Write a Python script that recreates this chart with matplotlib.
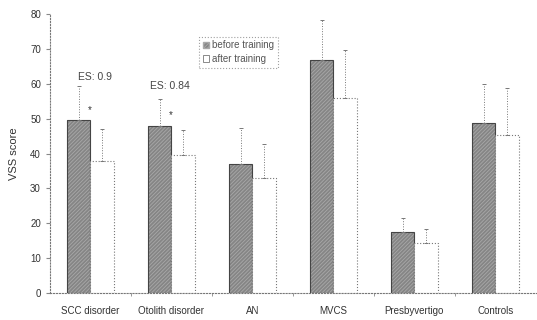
import numpy as np
import matplotlib.pyplot as plt

plt.rcParams['font.family'] = ['Liberation Sans', 'DejaVu Sans']
plt.rcParams['hatch.linewidth'] = 0.6

groups = ['SCC disorder', 'Otolith disorder', 'AN', 'MVCS', 'Presbyvertigo', 'Controls']
before = [49.6, 48.0, 36.9, 66.8, 17.4, 48.7]
before_sd = [9.7, 7.6, 10.4, 11.4, 4.1, 11.2]
after = [37.8, 39.5, 33.0, 56.0, 14.3, 45.3]
after_sd = [9.2, 7.2, 9.7, 13.6, 4.0, 13.4]

x = np.arange(len(groups)) + 0.5
w = 0.285

fig = plt.figure(figsize=(5.37, 3.2), dpi=100)
ax = fig.add_axes([0.093, 0.084, 0.905, 0.872])

# before: dark hatched, after: white dotted outline
ax.bar(x - w/2, before, w, color='#858585', edgecolor='#a9a9a9', hatch='/////////', lw=0)
ax.bar(x - w/2, before, w, fill=False, edgecolor='#444444', lw=0.8)
ax.bar(x + w/2, after, w, color='white', edgecolor='#777777', lw=0.8, ls=':')

for xs, ys, es in ((x - w/2, before, before_sd), (x + w/2, after, after_sd)):
    eb = ax.errorbar(xs, ys, yerr=[np.zeros(len(es)), es], fmt='none',
                     ecolor='#777777', elinewidth=0.7, capsize=1.5, capthick=0.7)
    for lc in eb[2]:
        lc.set_linestyle(':')

# legend-like box
h1 = plt.Rectangle((0, 0), 1, 1, facecolor='#858585', edgecolor='#a9a9a9', hatch='/////////')
h2 = plt.Rectangle((0, 0), 1, 1, facecolor='white', edgecolor='#777777', lw=0.6)
leg = ax.legend([h1, h2], ['before training', 'after training'],
                loc='upper left', bbox_to_anchor=(0.296, 0.937), fontsize=7,
                frameon=True, fancybox=False, handlelength=0.7, handleheight=0.7,
                handletextpad=0.3, borderpad=0.4, labelspacing=0.4,
                labelcolor='#555555')
leg.get_frame().set_edgecolor('#888888')
leg.get_frame().set_linestyle(':')
leg.get_frame().set_linewidth(0.8)

ax.text(x[0] - 0.15, 62, 'ES: 0.9', fontsize=7.5, color='#444444', ha='left', va='center')
ax.text(x[1] - 0.27, 59.5, 'ES: 0.84', fontsize=7.5, color='#444444', ha='left', va='center')
ax.text(x[0] - 0.01, 52.5, '*', fontsize=7, color='#333333', ha='center', va='center')
ax.text(x[1] - 0.01, 51, '*', fontsize=7, color='#333333', ha='center', va='center')

ax.set_xlim(0, len(groups))
ax.set_ylim(0, 80)
ax.set_yticks(range(0, 81, 10))
ax.set_xticks(x)
ax.set_xticklabels(groups)
ax.set_xticks(np.arange(1, len(groups)), minor=True)
ax.tick_params(axis='x', which='major', length=0, pad=9, labelsize=7, labelcolor='#333333')
ax.tick_params(axis='x', which='minor', length=2, direction='out', color='#888888')
ax.tick_params(axis='y', length=3, direction='out', color='#888888', labelsize=7, labelcolor='#333333')
ax.set_ylabel('VSS score', fontsize=8, color='#333333', labelpad=8)

for s in ('top', 'right'):
    ax.spines[s].set_visible(False)
for s in ('left', 'bottom'):
    ax.spines[s].set_color('#777777')
    ax.spines[s].set_linewidth(0.8)
    ax.spines[s].set_linestyle(':')

fig.savefig('out.png', dpi=100)
